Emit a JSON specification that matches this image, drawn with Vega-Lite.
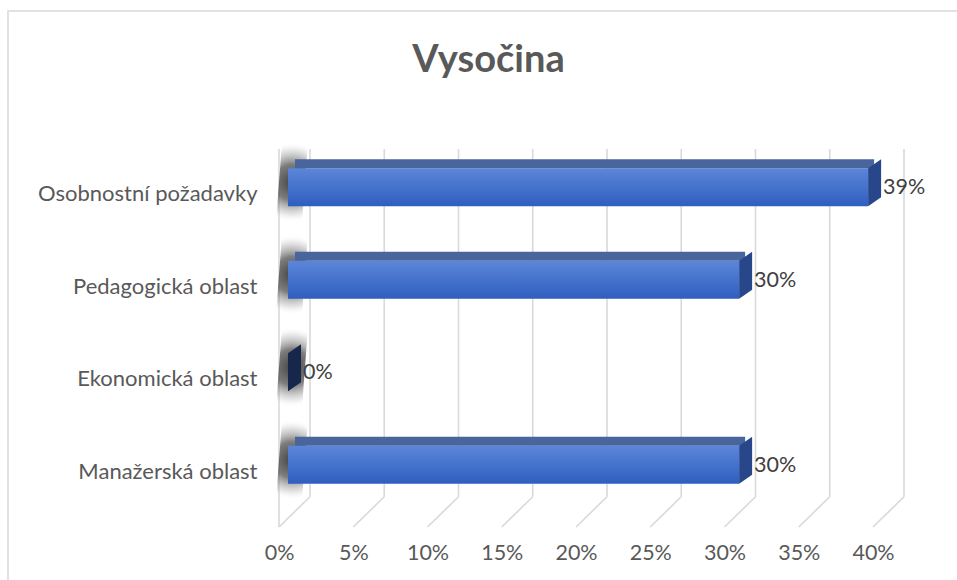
{
  "$schema": "https://vega.github.io/schema/vega-lite/v6.json",
  "width": 951,
  "height": 571,
  "autosize": {"type": "none"},
  "padding": {"left": 8, "top": 11, "right": -2, "bottom": -2},
  "background": "white",
  "config": {"view": {"stroke": "#d9d9d9", "strokeWidth": 1.5}, "font": "Lato"},
  "title": {
    "text": "Vysočina",
    "font": "Lato",
    "fontSize": 38,
    "fontWeight": "bold",
    "color": "#595959",
    "anchor": "middle",
    "frame": "group",
    "orient": "top",
    "offset": -88,
    "baseline": "middle",
    "dx": 5
  },
  "datasets": {
    "ticks": [
      {"t": 0}, {"t": 0.05}, {"t": 0.1}, {"t": 0.15}, {"t": 0.2},
      {"t": 0.25}, {"t": 0.3}, {"t": 0.35}, {"t": 0.4}
    ],
    "oblasti": [
      {"oblast": "Osobnostní požadavky", "v": 0.3913},
      {"oblast": "Pedagogická oblast", "v": 0.3043},
      {"oblast": "Ekonomická oblast", "v": 0},
      {"oblast": "Manažerská oblast", "v": 0.3043}
    ]
  },
  "layer": [
    {
      "data": {"name": "ticks"},
      "encoding": {
        "x": {
          "field": "t",
          "type": "quantitative",
          "scale": {"domain": [0, 0.4], "range": [271, 865], "nice": false, "zero": false},
          "axis": {
            "orient": "bottom",
            "offset": -44,
            "values": [0, 0.05, 0.1, 0.15, 0.2, 0.25, 0.3, 0.35, 0.4],
            "format": ".0%",
            "domain": false,
            "ticks": false,
            "grid": false,
            "labelPadding": 4,
            "labelFont": "Lato",
            "labelFontSize": 21.5,
            "labelColor": "#595959",
            "labelFlush": false,
            "labelOverlap": false,
            "title": null
          }
        }
      },
      "layer": [
        {
          "mark": {"type": "rule", "color": "#d9d9d9", "strokeWidth": 1.6, "xOffset": 31},
          "encoding": {
            "y": {"datum": 0, "type": "quantitative", "scale": {"domain": [0, 1], "range": [138, 516], "nice": false, "zero": false}, "axis": null},
            "y2": {"datum": 0.92}
          }
        },
        {
          "mark": {"type": "rule", "color": "#d9d9d9", "strokeWidth": 1.6, "xOffset": 31, "x2Offset": 0},
          "encoding": {
            "x2": {"field": "t"},
            "y": {"datum": 0.92, "type": "quantitative", "axis": null},
            "y2": {"datum": 1}
          }
        },
        {
          "transform": [{"filter": "datum.t == 0"}],
          "mark": {"type": "rule", "color": "#d9d9d9", "strokeWidth": 1.6},
          "encoding": {
            "y": {"datum": 0, "type": "quantitative", "axis": null},
            "y2": {"datum": 1}
          }
        }
      ]
    },
    {
      "data": {"name": "oblasti"},
      "encoding": {
        "y": {
          "field": "oblast",
          "type": "nominal",
          "sort": null,
          "scale": {"range": [135, 505], "paddingInner": 0, "paddingOuter": 0},
          "axis": {
            "orient": "left",
            "offset": -271,
            "title": null,
            "domain": false,
            "ticks": false,
            "labelPadding": 22,
            "labelFont": "Lato",
            "labelFontSize": 22,
            "labelColor": "#595959",
            "labelLimit": 400,
            "labelOffset": 2
          }
        },
        "x": {
          "field": "v",
          "type": "quantitative",
          "scale": {"domain": [0, 0.4], "range": [280, 873], "nice": false, "zero": false},
          "axis": null
        }
      },
      "layer": [
        {
          "mark": {
            "type": "point",
            "shape": "M-0.5,-2L0.8,-2L0.5,2L-0.8,2Z",
            "size": 1600,
            "filled": true,
            "opacity": 1,
            "strokeWidth": 0,
            "xOffset": 4,
            "yOffset": -10,
            "fill": {
              "gradient": "radial",
              "x1": 0.5, "y1": 0.5, "r1": 0,
              "x2": 0.5, "y2": 0.5, "r2": 0.5,
              "stops": [
                {"offset": 0, "color": "rgba(45,45,45,0.9)"},
                {"offset": 0.45, "color": "rgba(70,70,70,0.7)"},
                {"offset": 0.8, "color": "rgba(150,150,150,0.25)"},
                {"offset": 1, "color": "rgba(255,255,255,0)"}
              ]
            }
          },
          "encoding": {"x": {"datum": 0, "type": "quantitative"}}
        },
        {
          "mark": {
            "type": "bar",
            "height": 38,
            "yOffset": -5,
            "fill": {
              "gradient": "linear",
              "x1": 0, "y1": 0, "x2": 0, "y2": 1,
              "stops": [
                {"offset": 0, "color": "#5c86d8"},
                {"offset": 1, "color": "#2e5ebf"}
              ]
            }
          },
          "encoding": {"x2": {"datum": 0}}
        },
        {
          "transform": [{"filter": "datum.v > 0"}],
          "mark": {"type": "bar", "height": 9, "yOffset": -28.5, "xOffset": 6, "x2Offset": 7, "color": "#48659d"},
          "encoding": {"x2": {"datum": 0}}
        },
        {
          "mark": {
            "type": "point",
            "shape": "M0,-0.95L0.65,-1.4L0.65,0.5L0,0.95Z",
            "size": 1600,
            "filled": true,
            "opacity": 1,
            "strokeWidth": 0,
            "yOffset": -5
          },
          "encoding": {
            "fill": {"condition": {"test": "datum.v == 0", "value": "#17274b"}, "value": "#27478a"}
          }
        },
        {
          "mark": {
            "type": "text",
            "align": "left",
            "baseline": "middle",
            "dx": 15,
            "dy": -4,
            "font": "Lato",
            "fontSize": 21.5,
            "color": "#404040"
          },
          "encoding": {"text": {"field": "v", "type": "quantitative", "format": ".0%"}}
        }
      ]
    }
  ],
  "resolve": {
    "scale": {"x": "independent", "y": "independent"},
    "axis": {"x": "independent", "y": "independent"}
  }
}
